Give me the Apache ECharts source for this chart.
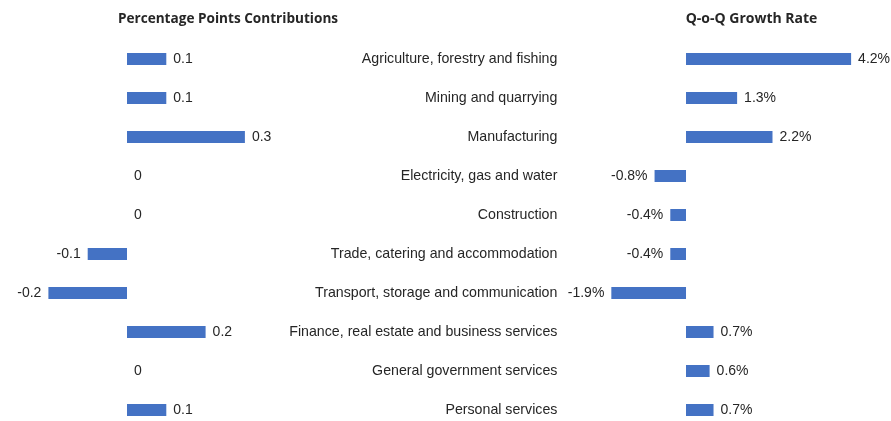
<!DOCTYPE html>
<html>
<head>
<meta charset="utf-8">
<script src="https://cdn.jsdelivr.net/npm/echarts@6/dist/echarts.min.js"></script>
<style>
  html, body { margin: 0; padding: 0; background: #fff; }
  #chart { width: 891px; height: 421px; }
</style>
</head>
<body>
<div id="chart"></div>
<script>
// Sectors, top to bottom
const sectors = [
  'Agriculture, forestry and fishing',
  'Mining and quarrying',
  'Manufacturing',
  'Electricity, gas and water',
  'Construction',
  'Trade, catering and accommodation',
  'Transport, storage and communication',
  'Finance, real estate and business services',
  'General government services',
  'Personal services'
];

// Percentage points contributions to growth
const contributions = [0.1, 0.1, 0.3, 0, 0, -0.1, -0.2, 0.2, 0, 0.1];

// Quarter-on-quarter growth rate, %
const growthRates = [4.2, 1.3, 2.2, -0.8, -0.4, -0.4, -1.9, 0.7, 0.6, 0.7];

const panelTitles = ['Percentage Points Contributions', 'Q-o-Q Growth Rate'];

const BAR = '#4472C4';
const TEXT = '#262626';
const LABEL_FONT = 'Liberation Sans, Arial, sans-serif';
const TITLE_FONT = 'Open Sans, Lato, sans-serif';

const chart = echarts.init(document.getElementById('chart'), null, { renderer: 'canvas' });

// Positive bars are labelled on the right, negative ones on the left
function labelled(values, fmt) {
  return values.map(v => ({
    value: v,
    label: {
      position: v < 0 ? 'left' : 'right',
      formatter: fmt(v)
    }
  }));
}

const labelStyle = {
  show: true,
  distance: 7,
  color: TEXT,
  fontFamily: LABEL_FONT,
  fontSize: 14
};

chart.setOption({
  backgroundColor: '#ffffff',
  animation: false,
  title: [
    {
      text: panelTitles[0], left: 223, top: 7, textAlign: 'center',
      textStyle: { fontFamily: TITLE_FONT, fontWeight: 'bold', fontSize: 13.6, color: TEXT }
    },
    {
      text: panelTitles[1], left: 746.5, top: 7, textAlign: 'center',
      textStyle: { fontFamily: TITLE_FONT, fontWeight: 'bold', fontSize: 14, color: TEXT }
    }
  ],
  grid: [
    { left: 48.4, width: 235.8, top: 59, height: 351 },
    { left: 607.4, width: 255.5, top: 59, height: 351 }
  ],
  xAxis: [
    { type: 'value', gridIndex: 0, min: -0.2, max: 0.4, show: false },
    { type: 'value', gridIndex: 1, min: -2, max: 4.5, show: false }
  ],
  yAxis: [
    {
      type: 'category', gridIndex: 0, data: sectors, inverse: true, boundaryGap: false,
      axisLine: { show: false }, axisTick: { show: false }, axisLabel: { show: false },
      splitLine: { show: false }
    },
    {
      type: 'category', gridIndex: 1, data: sectors, inverse: true, boundaryGap: false,
      axisLine: { show: false }, axisTick: { show: false }, splitLine: { show: false },
      axisLabel: { show: true, interval: 0, margin: 50, color: TEXT, fontFamily: LABEL_FONT, fontSize: 14.2 }
    }
  ],
  series: [
    {
      type: 'bar', xAxisIndex: 0, yAxisIndex: 0,
      data: labelled(contributions, v => String(v)),
      barWidth: 12,
      itemStyle: { color: BAR },
      label: labelStyle
    },
    {
      type: 'bar', xAxisIndex: 1, yAxisIndex: 1,
      data: labelled(growthRates, v => v.toFixed(1) + '%'),
      barWidth: 12,
      itemStyle: { color: BAR },
      label: labelStyle
    }
  ]
});
</script>
</body>
</html>
